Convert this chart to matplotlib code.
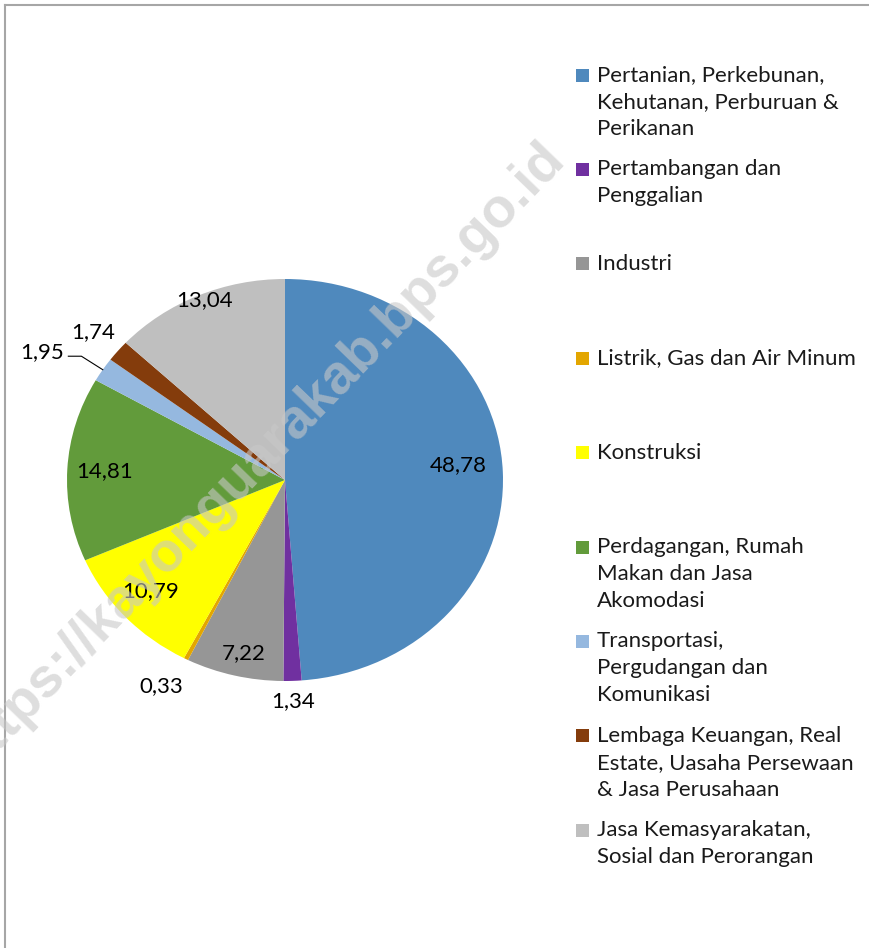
"""
Pie chart of sector shares (percent) with a side legend, Excel style.
"""
import matplotlib

matplotlib.use("Agg")
import matplotlib.pyplot as plt
import numpy as np
from matplotlib.lines import Line2D
from matplotlib.patches import Rectangle

# Data
categories = [
    "Pertanian, Perkebunan,\nKehutanan, Perburuan &\nPerikanan",
    "Pertambangan dan\nPenggalian",
    "Industri",
    "Listrik, Gas dan Air Minum",
    "Konstruksi",
    "Perdagangan, Rumah\nMakan dan Jasa\nAkomodasi",
    "Transportasi,\nPergudangan dan\nKomunikasi",
    "Lembaga Keuangan, Real\nEstate, Uasaha Persewaan\n& Jasa Perusahaan",
    "Jasa Kemasyarakatan,\nSosial dan Perorangan",
]
values = [48.78, 1.34, 7.22, 0.33, 10.79, 14.81, 1.95, 1.74, 13.04]
colors = [
    "#4F89BD", "#7030A0", "#969696", "#E3A600", "#FFFF00",
    "#629B3B", "#95B8DF", "#843C0C", "#BFBFBF",
]

# label placement (radius as fraction of pie radius, extra angle in degrees)
label_radius = [0.80, 1.10, 0.88, 1.17, 0.83, 0.83, 1.30, 1.15, 0.97]
label_shift = [3, 0, 1, -2, -1, 0, 4, 0, -1]

plt.rcParams["font.family"] = ["Lato", "DejaVu Sans"]

W, H = 869, 948
fig = plt.figure(figsize=(W / 100, H / 100), dpi=100)

# pie is slightly wider than tall, like the original
cx, cy, rx, ry = 285, 480, 218, 201
lim = 1.4
ax = fig.add_axes([(cx - lim * rx) / W, (H - cy - lim * ry) / H,
                   2 * lim * rx / W, 2 * lim * ry / H])
wedges, _ = ax.pie(values, colors=colors, startangle=90, counterclock=False,
                   wedgeprops=dict(linewidth=0))
ax.set_aspect("auto")
ax.set_xlim(-lim, lim)
ax.set_ylim(-lim, lim)
ax.axis("off")

fs = 16
for i, (w, v) in enumerate(zip(wedges, values)):
    mid = np.deg2rad((w.theta1 + w.theta2) / 2)
    ang = mid + np.deg2rad(label_shift[i])
    r = label_radius[i]
    x, y = r * np.cos(ang), r * np.sin(ang)
    txt = f"{v:.2f}".replace(".", ",")
    if i == 6:
        # leader line from wedge edge to the label
        ex, ey = np.cos(mid), np.sin(mid)
        ax.add_line(Line2D([ex, x + 0.20, x + 0.14], [ey, y - 0.02, y - 0.02],
                           color="black", lw=0.8))
        ax.text(x + 0.12, y, txt, ha="right", va="center", fontsize=fs)
    else:
        ax.text(x, y, txt, ha="center", va="center", fontsize=fs)

# legend drawn by hand so the entries sit in equal slots
leg_x, leg_y0, slot, line_h, box = 597, 75, 94.4, 27, 13
for i, (lab, c) in enumerate(zip(categories, colors)):
    y0 = leg_y0 + i * slot
    fig.patches.append(Rectangle(((leg_x - 21) / W, (H - y0 - box / 2) / H),
                                 box / W, box / H, transform=fig.transFigure,
                                 facecolor=c, edgecolor="none"))
    for j, line in enumerate(lab.split("\n")):
        fig.text(leg_x / W, (H - y0 - j * line_h) / H, line, ha="left",
                 va="center", fontsize=fs, color="#1A1A1A")

# chart area border (top and left edges visible)
fig.add_artist(Line2D([5 / W, 1], [1 - 5 / H, 1 - 5 / H], transform=fig.transFigure,
                      color="#A6A6A6", lw=1.5))
fig.add_artist(Line2D([5 / W, 5 / W], [0, 1 - 5 / H], transform=fig.transFigure,
                      color="#A6A6A6", lw=1.5))

# watermark (runs off the left edge, as in the original)
fig.text(556 / W, 1 - 150 / H, "https://kayonguarakab.bps.go.id", rotation=46,
         rotation_mode="anchor", ha="right", va="center", fontsize=40,
         fontweight="bold", family="Liberation Sans", color="#C8C8C8",
         alpha=0.6, zorder=10)

fig.savefig("out.png", dpi=100)
